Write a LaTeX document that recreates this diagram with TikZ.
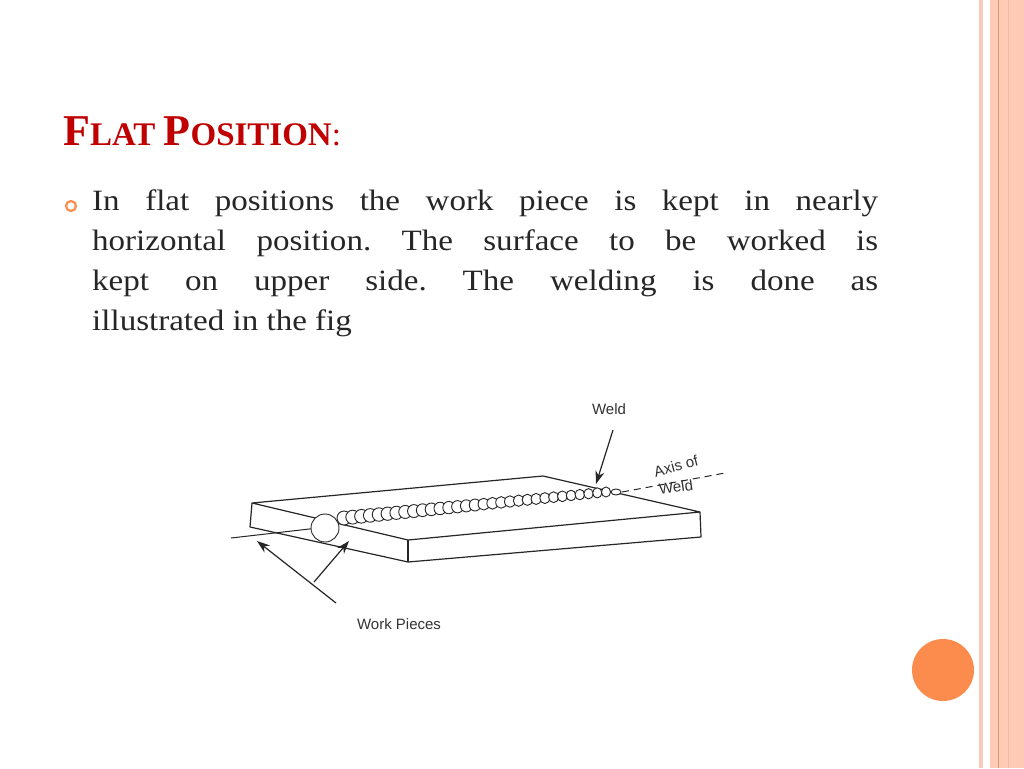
\documentclass[tikz,border=0pt]{standalone}
\usepackage{fontspec}
\setmainfont{Liberation Serif}
\setsansfont{Liberation Sans}
\newfontfamily\bodyfont{Liberation Serif}[FakeStretch=1.12]
\usetikzlibrary{arrows.meta}
\definecolor{stripeA}{RGB}{250,200,190}
\definecolor{stripeB}{RGB}{255,203,180}
\definecolor{stripeC}{RGB}{220,150,120}
\definecolor{stripeD}{RGB}{245,185,160}
\definecolor{orng}{RGB}{251,140,78}
\definecolor{titlered}{RGB}{192,0,0}
\begin{document}
\begin{tikzpicture}[x=1pt,y=-1pt,line join=round,
  ln/.style={draw=black!85,line width=1.2pt},
  bead/.style={draw=black!85,line width=0.9pt},
  lab/.style={font=\sffamily\fontsize{15}{17}\selectfont,text=black!80}]
\useasboundingbox (0,0) rectangle (1024,768);
\fill[white] (0,0) rectangle (1024,768);
% right border
\fill[stripeA] (979,0) rectangle (983,768);
\fill[stripeB] (990,0) rectangle (1024,768);
\draw[stripeC,line width=0.8pt] (998,0) -- (998,768);
\draw[stripeD,line width=0.6pt] (1008,0) -- (1008,768);
\fill[orng] (943,670) circle (31);
% title
\node[anchor=base west,inner sep=0,text=titlered] (title) at (63,145)
 {\fontsize{44}{50}\selectfont\bfseries F\fontsize{33}{40}\selectfont LAT \fontsize{44}{50}\selectfont P\fontsize{33}{40}\selectfont OSITION\mdseries:};
% bullet
\draw[orng,line width=2.2pt] (71,206) circle (5);
\node[anchor=north west,inner sep=0,text=black!85] (body) at (92,190)
 {\parbox{786pt}{\bodyfont\fontsize{29.5}{40}\selectfont\frenchspacing
 In flat positions the work piece is kept in nearly\linebreak horizontal position. The surface to be worked is\linebreak kept on upper side. The welding is done as\linebreak illustrated in the fig}};
% plate
\coordinate (lb) at (252,503);
\coordinate (rb) at (543,476);
\coordinate (rr) at (700,512);
\coordinate (ff) at (408,540);
\coordinate (lbb) at (250,527);
\coordinate (ffb) at (408,562);
\coordinate (rrb) at (701,537);
\draw[ln] (lb) -- (rb) -- (rr) -- (ff) -- cycle;
\draw[ln] (lb) -- (lbb) -- (ffb) -- (rrb) -- (rr);
\draw[ln] (ff) -- (ffb);
% axis
\coordinate (ax1) at (231,538);
\coordinate (ax2) at (318,528);
\draw[ln,line width=1pt] (ax1) -- (ax2);
\coordinate (ax3) at (622,492);
\coordinate (ax4) at (725,473);
\draw[ln,line width=1pt,dash pattern=on 7pt off 5pt] (ax3) -- (ax4);
% weld beads
\foreach \i in {0,...,30}{
  \pgfmathsetmacro\t{\i/30}
  \pgfmathsetmacro\xx{344+\t*(606-344)}
  \pgfmathsetmacro\yy{518+\t*(492-518)}
  \pgfmathsetmacro\rx{7-2.5*\t}
  \pgfmathsetmacro\ry{7-2*\t}
  \draw[bead,fill=white] (\xx,\yy) ellipse ({\rx} and {\ry});
}
\draw[bead,fill=white] (325,528) circle (14);
\draw[bead,fill=white] (616,492) ellipse (5 and 3);
% labels
\node[lab] (weld) at (609,409) {Weld};
\node[lab,rotate=15] (axis) at (676,466) {Axis of};
\node[lab,rotate=8] (axisw) at (676,487) {Weld};
\node[lab] (wp) at (399,624) {Work Pieces};
\coordinate (wt) at (613,430);
\coordinate (wh) at (596,484);
\draw[ln,-{Stealth[length=13pt,width=9pt]}] (wt) -- (wh);
\coordinate (p1) at (336,603);
\coordinate (h1) at (257,541);
\coordinate (p2) at (314,582);
\coordinate (h2) at (349,541);
\draw[ln,-{Stealth[length=13pt,width=9pt]}] (p1) -- (h1);
\draw[ln,-{Stealth[length=13pt,width=9pt]}] (p2) -- (h2);
\end{tikzpicture}
\end{document}
